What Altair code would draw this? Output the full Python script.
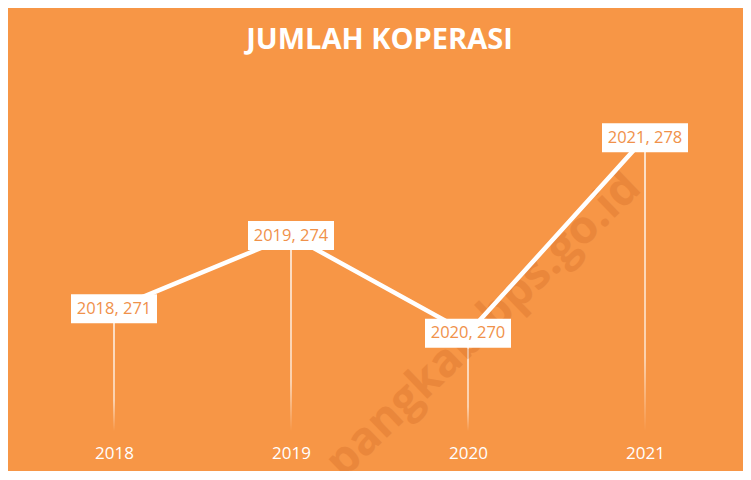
import altair as alt
import pandas as pd

years = ["2018", "2019", "2020", "2021"]
values = [271, 274, 270, 278]
labels = [f"{y}, {v}" for y, v in zip(years, values)]

df = pd.DataFrame({"year": years, "value": values, "label": labels, "base": [266] * 4})

BG = "#F79646"
Y_DOMAIN = [266, 280]

x_enc = alt.X("year:N", sort=years,
              scale=alt.Scale(type="point", padding=0.5),
              axis=alt.Axis(title=None, domain=False, ticks=False, grid=False,
                            labelAngle=0, labelColor="white", labelFontSize=17,
                            labelFont="Open Sans", labelPadding=14))
y_scale = alt.Scale(domain=Y_DOMAIN, nice=False, zero=False)
y_enc = alt.Y("value:Q", scale=y_scale, axis=None)

base = alt.Chart(df)

drops = base.mark_bar(
    size=1.5,
    color={"gradient": "linear", "x1": 0, "y1": 0, "x2": 0, "y2": 1,
           "stops": [{"offset": 0, "color": "rgba(255,255,255,0.95)"},
                     {"offset": 0.75, "color": "rgba(255,255,255,0.75)"},
                     {"offset": 1, "color": "rgba(255,255,255,0)"}]}
).encode(x=x_enc, y=y_enc, y2="base:Q")

wm = alt.Chart(pd.DataFrame({"t": ["pangkab.bps.go.id"]})).mark_text(
    font="Open Sans", fontWeight="bold", fontSize=46, angle=316,
    color="#C8601E", opacity=0.27, align="center", baseline="middle"
).encode(x=alt.value(458), y=alt.value(236), text="t:N")

line = base.mark_line(color="white", strokeWidth=4.5).encode(x=x_enc, y=y_enc)

boxes = base.mark_point(
    shape="M-1,-0.337H1V0.337H-1Z", filled=True, fill="white", opacity=1,
    size=86 * 86, strokeWidth=0
).encode(x=x_enc, y=y_enc)

texts = base.mark_text(
    font="Open Sans", fontSize=16.5, color="#F0914A", baseline="middle", align="center"
).encode(x=x_enc, y=y_enc, text="label:N")

chart = alt.layer(drops, wm, line, boxes, texts).properties(
    width=708, height=342,
    title=alt.TitleParams("JUMLAH KOPERASI", color="white", font="Open Sans",
                          fontWeight="bold", fontSize=29, anchor="middle", offset=34),
    autosize=alt.AutoSizeParams(type="none"),
    padding={"left": 17.5, "top": 81, "right": 9.5, "bottom": 40},
    background=BG,
).configure_view(stroke=None)

chart.save("out.html", embed_options={"renderer": "svg", "actions": False})
